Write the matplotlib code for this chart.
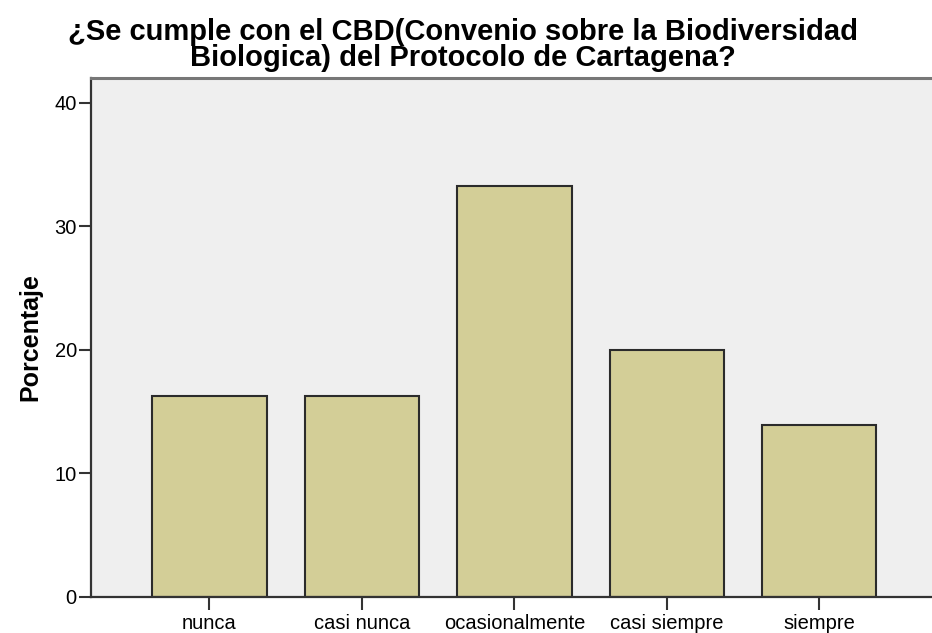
import numpy as np
import matplotlib
matplotlib.use("Agg")
from matplotlib import pyplot as plt

plt.rcParams['font.family'] = ['Liberation Sans', 'DejaVu Sans']

categories = ["nunca", "casi nunca", "ocasionalmente", "casi siempre", "siempre"]
percent = [16.3, 16.3, 33.3, 20.0, 13.9]
yticks = [0, 10, 20, 30, 40]

title = ("¿Se cumple con el CBD(Convenio sobre la Biodiversidad\n"
         "Biologica) del Protocolo de Cartagena?")

fig = plt.figure(figsize=(9.32, 6.33), dpi=100)
# plot area runs slightly past the right edge of the picture, as in the original
ax = fig.add_axes([90.7 / 932, 1 - 597 / 633, (938 - 90.7) / 932, (597 - 78) / 633])
ax.set_facecolor("#efefef")

x = np.arange(len(categories))
ax.bar(x, percent, width=0.75, color="#d3ce97", edgecolor="#2b2b2b", linewidth=1.5, zorder=2)

ax.set_xlim(-0.779, len(categories) - 1 + 0.779)
ax.set_ylim(0, 42)
ax.set_xticks(x)
ax.set_xticklabels(categories, fontsize=14.5)
ax.set_yticks(yticks)
ax.set_yticklabels([str(v) for v in yticks], fontsize=14.5)
ax.tick_params(axis="y", length=9, width=1.5, color="#333333", pad=1)
ax.tick_params(axis="x", length=9, width=1.5, color="#333333", pad=3)

for side in ["left", "bottom"]:
    ax.spines[side].set_color("#333333")
    ax.spines[side].set_linewidth(1.6)
ax.spines["top"].set_color("#777777")
ax.spines["top"].set_linewidth(2.2)
ax.spines["right"].set_visible(False)

ax.set_ylabel("Porcentaje", fontsize=18, fontweight="bold", labelpad=9)

fig.text(0.497, 0.972, title, ha="center", va="top", fontsize=21,
         fontweight="bold", linespacing=0.92)

fig.savefig("out.png", dpi=100)
